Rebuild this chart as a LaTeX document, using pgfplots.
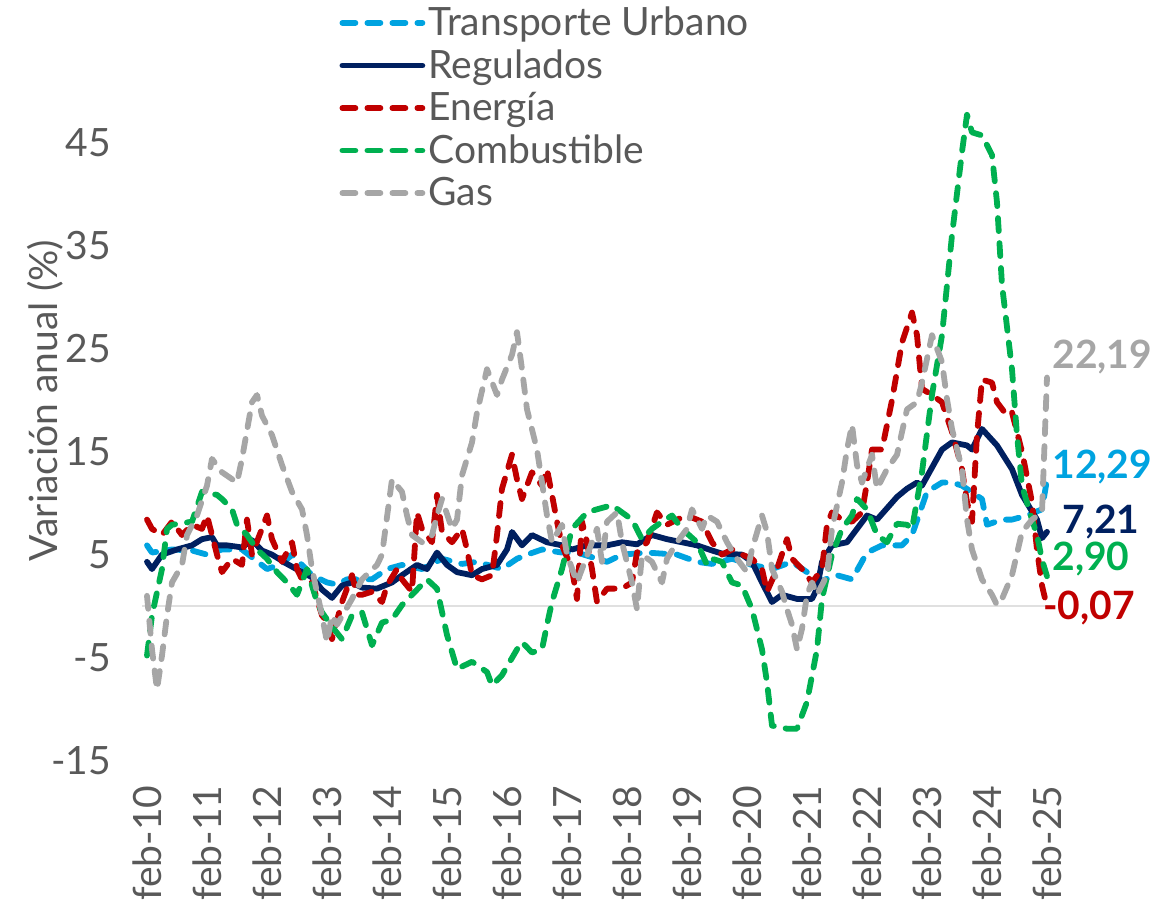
\documentclass[border=0pt]{standalone}
\usepackage{pgfplots}
\pgfplotsset{compat=1.18}
\usepackage{fontspec}
\setmainfont{Lato}
\definecolor{tu}{RGB}{0,163,224}
\definecolor{reg}{RGB}{0,32,96}
\definecolor{ene}{RGB}{192,0,0}
\definecolor{com}{RGB}{0,176,80}
\definecolor{gas}{RGB}{166,166,166}
\definecolor{txt}{RGB}{89,89,89}
\begin{document}
\begin{tikzpicture}
\path (-71pt,-70pt) rectangle (505pt,380pt);
\begin{axis}[
  at={(0,0)}, anchor=south west,
  scale only axis, width=455pt, height=377.5pt,
  xmin=-1, xmax=181, ymin=-15, ymax=58.3,
  clip=false,
  axis line style={draw=none},
  major tick length=0pt,
  xtick={0,12,...,180},
  xticklabels={feb-10,feb-11,feb-12,feb-13,feb-14,feb-15,feb-16,feb-17,feb-18,feb-19,feb-20,feb-21,feb-22,feb-23,feb-24,feb-25},
  xticklabel style={rotate=90, anchor=east},
  xticklabel shift={9pt},
  ytick={-15,-5,5,15,25,35,45},
  yticklabel shift={12pt},
  extra y ticks={0}, extra y tick labels={},
  extra y tick style={grid=major, major grid style={draw=black!12, line width=0.7pt}},
  ticklabel style={font=\fontsize{19.5}{23}\selectfont, text=txt},
  /pgf/number format/assume math mode=true,
  ylabel={Variación anual (\%)},
  ylabel style={at={(axis description cs:-0.1066,0.477)}, anchor=center, font=\fontsize{19.5}{23}\selectfont, text=txt},
  legend style={draw=none, fill=none, at={(axis description cs:0.21,1.008)}, anchor=north west,
    font=\fontsize{19.5}{23}\selectfont, text=txt, row sep=2.5pt, nodes={inner sep=1.5pt}},
  legend cell align=left,
  legend image code/.code={\draw[#1] (0pt,0pt) -- (40pt,0pt);},
  every axis plot/.append style={line width=2.9pt, line join=round},
  dsh/.style={dash pattern=on 6.5pt off 6pt, line cap=round},
]
\addplot[tu, dsh] coordinates {
(0,5.9)(1,5.2)(5,5.5)(9,5.4)(12,5.0)(15,5.5)(19,5.5)(24,3.6)(27,4.1)(29,5.0)(33,3.0)(36,2.3)(38,2.1)(40,2.6)(45,2.6)(48,3.6)(51,4.0)(55,3.6)(59,4.6)(63,4.1)(66,4.3)(71,3.6)(74,4.6)(76,5.0)(79,5.5)(83,5.2)(86,5.2)(92,4.3)(95,5.0)(100,5.2)(106,5.0)(110,4.3)(113,4.1)(117,4.6)(121,4.0)(125,3.6)(129,4.3)(132,3.3)(134,2.3)(138,3.0)(141,2.6)(144,5.2)(147,5.9)(151,5.9)(153,6.9)(156,11.1)(159,12.0)(161,12.0)(163,11.7)(167,10.4)(168,7.9)(171,8.4)(173,8.4)(176,8.8)(179,9.4)(180,12.29)};
\addlegendentry{Transporte Urbano}
\addplot[reg, line cap=round] coordinates {
(0,4.3)(1,3.6)(3,5.0)(6,5.5)(9,5.9)(11,6.5)(13,6.7)(14,5.9)(16,5.9)(19,5.7)(21,6.4)(23,5.4)(25,5.0)(28,4.1)(31,3.3)(33,2.8)(35,1.6)(37,0.8)(39,2.0)(41,2.3)(43,1.8)(46,1.7)(49,2.3)(51,3.0)(54,4.0)(56,3.6)(58,5.2)(60,4.0)(62,3.3)(65,3.0)(67,3.6)(70,4.0)(72,5.5)(73,7.2)(75,5.9)(77,6.9)(80,6.2)(83,5.9)(85,5.5)(88,5.9)(92,5.9)(95,6.2)(98,6.0)(101,6.9)(104,6.5)(107,6.2)(110,5.9)(113,5.4)(115,5.1)(119,5.0)(121,4.3)(123,2.3)(125,0.4)(127,1.1)(130,0.7)(133,0.7)(134,1.7)(135,4.3)(137,5.9)(140,6.2)(142,7.5)(144,8.8)(146,8.4)(150,10.6)(152,11.4)(154,12.0)(155,11.7)(159,15.2)(161,15.9)(164,15.6)(165,15.2)(167,17.2)(170,15.6)(173,13.3)(175,10.8)(178,8.4)(179,6.6)(180,7.21)};
\addlegendentry{Regulados}
\addplot[ene, dsh] coordinates {
(0,8.4)(1,7.5)(3,6.9)(5,8.2)(7,6.9)(9,7.9)(11,7.5)(12,8.8)(14,5.0)(15,3.3)(17,4.6)(19,4.0)(20,8.4)(21,5.0)(24,8.8)(25,6.5)(27,4.3)(29,6.2)(30,3.6)(31,2.6)(33,2.3)(35,-0.9)(36,-1.5)(37,-3.2)(39,0.4)(41,3.0)(42,1.1)(43,1.1)(45,1.4)(47,0.4)(48,2.0)(50,3.6)(51,2.6)(53,1.4)(54,9.1)(55,7.5)(57,6.2)(58,10.8)(59,7.2)(61,6.2)(63,7.5)(64,5.5)(65,3.0)(67,2.6)(69,3.0)(70,6.9)(71,11.4)(73,14.7)(74,12.3)(75,10.4)(77,13.0)(79,11.7)(80,13.3)(81,10.8)(82,8.2)(83,5.9)(85,3.6)(86,0.7)(87,8.2)(88,6.2)(89,3.6)(90,0.4)(92,1.7)(95,1.7)(97,2.3)(98,5.2)(100,6.2)(102,9.1)(104,7.9)(106,8.4)(108,8.8)(111,8.2)(113,6.2)(115,5.0)(117,5.5)(119,5.0)(121,4.6)(123,3.6)(124,1.4)(126,3.6)(128,6.5)(129,4.6)(131,3.6)(133,2.3)(135,3.6)(136,7.9)(137,9.1)(139,8.4)(141,8.2)(143,9.1)(144,12.0)(145,15.2)(147,15.2)(149,20.0)(151,25.6)(153,28.5)(154,26.3)(155,21.1)(157,20.5)(159,19.8)(161,16.9)(163,13.3)(164,10.1)(165,8.2)(166,16.6)(167,22.0)(169,21.7)(170,19.8)(172,18.5)(173,18.8)(175,15.0)(177,10.1)(178,5.5)(179,2.0)(180,-0.07)};
\addlegendentry{Energía}
\addplot[com, dsh] coordinates {
(0,-4.8)(1,-0.9)(3,3.6)(4,7.5)(5,7.9)(9,8.2)(11,11.1)(14,10.8)(15,10.4)(17,9.4)(18,7.9)(20,6.9)(22,5.5)(24,4.6)(26,3.3)(28,2.3)(30,1.1)(32,3.6)(34,0.4)(35,-0.6)(37,-2.0)(39,-3.2)(41,-0.9)(43,-0.6)(45,-3.8)(47,-1.6)(49,-1.3)(51,0.1)(53,1.1)(56,2.6)(58,1.7)(60,-2.8)(62,-6.1)(65,-5.4)(68,-6.4)(69,-7.7)(71,-6.7)(74,-4.2)(75,-3.5)(77,-4.5)(79,-4.2)(80,-1.8)(81,0.4)(83,3.6)(85,7.5)(88,9.1)(90,9.4)(93,9.8)(95,9.1)(97,8.4)(99,6.5)(101,7.5)(103,8.2)(105,8.8)(107,7.5)(110,6.2)(112,4.0)(113,4.6)(115,4.3)(117,2.3)(119,2.0)(121,-0.3)(123,-4.2)(124,-7.4)(125,-11.6)(128,-11.9)(130,-11.9)(132,-9.3)(134,-4.2)(135,0.7)(137,5.0)(139,7.5)(141,8.8)(142,10.4)(144,9.4)(146,6.9)(148,6.2)(150,8.0)(152,7.9)(153,7.5)(155,13.0)(157,20.5)(159,26.3)(161,36.0)(163,44.1)(164,47.7)(165,46.0)(167,45.7)(169,43.8)(170,39.2)(171,31.2)(173,23.0)(174,16.6)(175,11.7)(177,8.4)(178,6.9)(179,4.5)(180,2.90)};
\addlegendentry{Combustible}
\addplot[gas, dsh] coordinates {
(0,1.0)(1,-4.2)(2,-8.1)(3,-4.8)(4,-0.9)(5,2.3)(7,4.0)(8,6.9)(10,8.8)(12,11.7)(13,14.3)(15,13.0)(18,12.0)(19,14.3)(21,19.8)(22,20.5)(23,18.5)(25,16.6)(27,13.7)(29,11.1)(31,9.4)(32,6.9)(33,3.6)(35,-0.9)(36,-3.5)(37,-0.9)(38,-1.8)(41,0.7)(43,2.6)(46,4.0)(47,5.0)(49,12.3)(51,11.1)(52,8.8)(53,6.9)(55,6.2)(57,6.9)(58,8.8)(59,10.4)(61,7.5)(62,8.4)(63,12.7)(65,15.9)(66,18.8)(68,23.0)(70,20.5)(71,22.0)(73,24.4)(74,26.6)(75,23.0)(76,19.1)(78,15.2)(79,12.0)(80,8.8)(81,6.2)(83,7.9)(84,5.0)(86,2.3)(87,3.6)(89,6.2)(90,7.5)(91,4.3)(92,8.2)(94,9.1)(95,6.2)(97,2.3)(98,-0.3)(99,5.0)(101,4.3)(103,2.3)(104,4.6)(106,6.2)(108,7.5)(109,9.4)(111,7.5)(112,8.8)(114,8.2)(116,6.2)(118,4.6)(120,3.3)(121,5.5)(123,8.8)(124,7.2)(125,3.6)(127,1.4)(128,-0.3)(129,-1.8)(130,-4.2)(131,-2.2)(132,1.1)(133,2.3)(134,1.1)(136,3.0)(137,7.5)(139,12.0)(140,15.2)(141,17.6)(142,13.7)(143,12.0)(145,14.7)(146,11.4)(148,13.3)(150,14.7)(152,19.1)(154,19.8)(155,21.7)(157,26.3)(159,23.7)(160,20.1)(161,17.2)(163,13.3)(164,8.4)(165,5.5)(167,2.6)(169,1.1)(170,0.1)(171,0.7)(173,3.0)(175,7.2)(177,8.4)(179,9.1)(180,22.19)};
\addlegendentry{Gas}
\begin{scope}[every node/.style={font=\fontsize{19.5}{23}\selectfont\bfseries, anchor=west, inner sep=0pt}]
\node[text=gas] at (axis cs:181,24.2) {22,19};
\node[text=tu] at (axis cs:181,13.5) {12,29};
\node[text=reg] at (axis cs:183,8.2) {7,21};
\node[text=com] at (axis cs:181,4.6) {2,90};
\node[text=ene] at (axis cs:179.2,-0.2) {-0,07};
\end{scope}
\end{axis}
\end{tikzpicture}
\end{document}
